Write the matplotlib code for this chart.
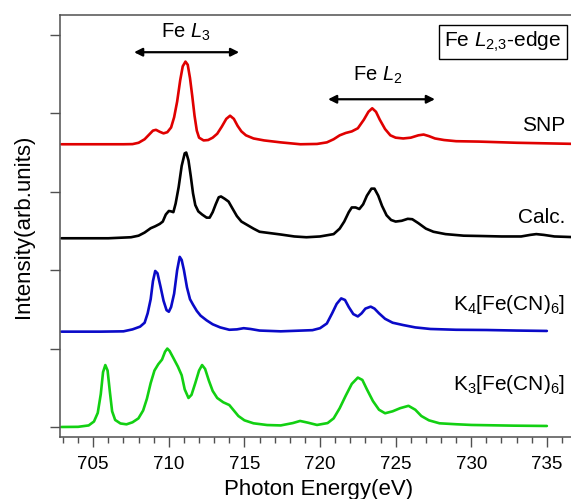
import matplotlib
matplotlib.use("Agg")
import matplotlib.pyplot as plt
from matplotlib.ticker import MultipleLocator

plt.rcParams['font.family'] = ['Liberation Sans', 'DejaVu Sans']
plt.rcParams['mathtext.fontset'] = 'custom'
plt.rcParams['mathtext.rm'] = 'Liberation Sans'
plt.rcParams['mathtext.it'] = 'Liberation Sans:italic'

# ---- data ----
snp_e = [702.9, 705.0, 707.0, 707.6, 708.0, 708.4, 708.7, 708.95, 709.15, 709.4,
         709.65, 709.9, 710.15, 710.35, 710.55, 710.75, 710.92, 711.1, 711.25, 711.4,
         711.55, 711.7, 711.85, 712.0, 712.3, 712.6, 712.9, 713.2, 713.5, 713.8,
         714.05, 714.3, 714.55, 714.8, 715.1, 715.6, 716.3, 717.4, 718.7, 719.8,
         720.45, 720.9, 721.3, 721.7, 722.1, 722.5, 722.9, 723.2, 723.45, 723.7,
         723.95, 724.3, 724.65, 725.0, 725.5, 726.0, 726.5, 726.85, 727.2, 727.6,
         728.2, 729.0, 730.5, 733.0, 737.0]
snp_i = [3.606, 3.606, 3.606, 3.608, 3.625, 3.67, 3.73, 3.78, 3.79, 3.765,
         3.745, 3.76, 3.82, 3.95, 4.15, 4.42, 4.60, 4.66, 4.62, 4.45,
         4.22, 3.97, 3.78, 3.69, 3.655, 3.66, 3.69, 3.74, 3.83, 3.93,
         3.97, 3.93, 3.84, 3.77, 3.72, 3.68, 3.655, 3.63, 3.606, 3.61,
         3.63, 3.67, 3.72, 3.75, 3.77, 3.81, 3.92, 4.02, 4.065, 4.02,
         3.92, 3.80, 3.72, 3.69, 3.68, 3.69, 3.72, 3.73, 3.71, 3.68,
         3.66, 3.645, 3.64, 3.625, 3.61]

calc_e = [702.9, 706.0, 707.5, 708.0, 708.4, 708.8, 709.1, 709.4, 709.6, 709.8,
          710.0, 710.15, 710.3, 710.45, 710.65, 710.85, 711.05, 711.15, 711.3, 711.45,
          711.6, 711.75, 711.95, 712.2, 712.5, 712.7, 712.9, 713.1, 713.3, 713.45,
          713.7, 713.95, 714.2, 714.5, 714.8, 715.2, 715.6, 716.0, 716.6, 717.4,
          718.3, 719.1, 720.0, 720.9, 721.3, 721.6, 721.9, 722.1, 722.35, 722.6,
          722.85, 723.1, 723.4, 723.6, 723.85, 724.1, 724.4, 724.7, 725.0, 725.4,
          725.8, 726.1, 726.5, 727.0, 727.5, 728.3, 729.5, 730.6, 732.0, 733.3,
          733.9, 734.3, 734.8, 735.5, 737.0]
calc_i = [2.407, 2.407, 2.42, 2.44, 2.48, 2.535, 2.56, 2.59, 2.62, 2.71,
          2.755, 2.75, 2.74, 2.85, 3.06, 3.33, 3.49, 3.50, 3.40, 3.20,
          2.98, 2.83, 2.75, 2.71, 2.67, 2.67, 2.74, 2.84, 2.93, 2.94,
          2.91, 2.875, 2.79, 2.69, 2.62, 2.575, 2.53, 2.49, 2.475, 2.455,
          2.43, 2.42, 2.43, 2.46, 2.53, 2.62, 2.74, 2.80, 2.80, 2.78,
          2.84, 2.95, 3.04, 3.04, 2.95, 2.82, 2.70, 2.64, 2.62, 2.63,
          2.655, 2.65, 2.60, 2.53, 2.49, 2.46, 2.44, 2.436, 2.43, 2.43,
          2.45, 2.46, 2.45, 2.43, 2.42]

k4_e = [702.9, 705.5, 707.0, 707.6, 708.1, 708.4, 708.6, 708.8, 708.95, 709.1,
        709.25, 709.45, 709.65, 709.85, 710.0, 710.15, 710.35, 710.55, 710.72, 710.85,
        711.0, 711.2, 711.4, 711.6, 711.85, 712.1, 712.5, 712.9, 713.4, 714.0,
        714.5, 714.95, 715.4, 716.0, 717.4, 719.5, 720.0, 720.45, 720.8, 721.1,
        721.4, 721.65, 721.9, 722.2, 722.5, 722.75, 723.0, 723.35, 723.6, 723.9,
        724.3, 724.8, 725.5, 726.3, 727.3, 729.0, 731.0, 733.0, 735.0]
k4_i = [1.216, 1.216, 1.22, 1.245, 1.28, 1.33, 1.45, 1.63, 1.86, 1.99,
        1.96, 1.79, 1.61, 1.49, 1.47, 1.53, 1.70, 2.00, 2.17, 2.13,
        2.00, 1.78, 1.63, 1.56, 1.48, 1.42, 1.36, 1.31, 1.27, 1.24,
        1.245, 1.26, 1.25, 1.23, 1.22, 1.235, 1.26, 1.32, 1.45, 1.57,
        1.64, 1.62, 1.53, 1.44, 1.41, 1.45, 1.51, 1.535, 1.51, 1.45,
        1.38, 1.33, 1.30, 1.27, 1.25, 1.24, 1.237, 1.23, 1.225]

k3_e = [702.9, 704.0, 704.7, 705.05, 705.3, 705.5, 705.65, 705.8, 705.95, 706.1,
        706.25, 706.45, 706.8, 707.2, 707.6, 707.99, 708.3, 708.55, 708.8, 709.05,
        709.3, 709.55, 709.75, 709.9, 710.05, 710.3, 710.6, 710.85, 711.05, 711.3,
        711.5, 711.75, 712.0, 712.2, 712.4, 712.65, 712.9, 713.2, 713.6, 714.0,
        714.3, 714.6, 715.0, 715.6, 716.5, 717.4, 718.2, 718.68, 719.2, 719.8,
        720.5, 720.9, 721.3, 721.7, 722.1, 722.5, 722.8, 723.1, 723.5, 723.9,
        724.3, 724.8, 725.3, 725.85, 726.3, 726.7, 727.2, 727.9, 729.0, 730.0,
        732.8, 735.0]
k3_i = [0.0, 0.002, 0.02, 0.07, 0.18, 0.42, 0.70, 0.79, 0.72, 0.45,
        0.20, 0.09, 0.045, 0.034, 0.06, 0.11, 0.21, 0.36, 0.56, 0.72,
        0.80, 0.86, 0.96, 1.0, 0.97, 0.88, 0.77, 0.66, 0.48, 0.37,
        0.41, 0.56, 0.72, 0.79, 0.74, 0.59, 0.46, 0.37, 0.315, 0.28,
        0.21, 0.14, 0.085, 0.047, 0.025, 0.02, 0.05, 0.077, 0.055, 0.026,
        0.05, 0.11, 0.24, 0.40, 0.55, 0.63, 0.60, 0.48, 0.33, 0.22,
        0.175, 0.20, 0.24, 0.27, 0.22, 0.14, 0.085, 0.047, 0.035, 0.026,
        0.017, 0.013]

series_names = ['SNP', 'Calc.', r'K$_4$[Fe(CN)$_6$]', r'K$_3$[Fe(CN)$_6$]']
series_colors = ['#e00000', '#000000', '#0a0ac8', '#12d012']
label_y = [3.85, 2.67, 1.556, 0.536]

fig = plt.figure(figsize=(5.71, 4.99), dpi=100)
ax = fig.add_axes([0.105, 0.1242, 0.907, 0.8458])

for e, i, c in zip([snp_e, calc_e, k4_e, k3_e], [snp_i, calc_i, k4_i, k3_i], series_colors):
    ax.plot(e, i, color=c, lw=1.9, solid_joinstyle='round', solid_capstyle='round')

ax.set_xlim(702.8, 737.05)
ax.set_ylim(-0.128, 5.255)

spine_c = '#505050'
for s in ['left', 'bottom', 'top']:
    ax.spines[s].set_color(spine_c)
    ax.spines[s].set_linewidth(1.1)
ax.spines['right'].set_visible(False)

ax.xaxis.set_major_locator(MultipleLocator(5))
ax.xaxis.set_minor_locator(MultipleLocator(1))
ax.yaxis.set_major_locator(MultipleLocator(1))
ax.tick_params(axis='x', which='major', direction='out', length=7, width=1.0,
               color=spine_c, labelsize=13.5, pad=7)
ax.tick_params(axis='x', which='minor', direction='out', length=4, width=1.0, color=spine_c)
ax.tick_params(axis='y', which='major', direction='out', length=7, width=1.0,
               color=spine_c, labelleft=False)

ax.set_xlabel('Photon Energy(eV)', fontsize=16, labelpad=4)
ax.set_ylabel('Intensity(arb.units)', fontsize=16, labelpad=12)

for name, y in zip(series_names, label_y):
    ax.text(736.2, y, name, fontsize=15, ha='right', va='center')

# edge arrows and labels
ax.annotate('', xy=(707.7, 4.78), xytext=(714.65, 4.78),
            arrowprops=dict(arrowstyle='<|-|>', color='black', lw=1.6,
                            mutation_scale=12, shrinkA=0, shrinkB=0))
ax.annotate('', xy=(720.53, 4.18), xytext=(727.6, 4.18),
            arrowprops=dict(arrowstyle='<|-|>', color='black', lw=1.6,
                            mutation_scale=12, shrinkA=0, shrinkB=0))
ax.text(711.15, 5.03, r'Fe $\mathit{L}_3$', fontsize=14.5, ha='center', va='center')
ax.text(723.8, 4.48, r'Fe $\mathit{L}_2$', fontsize=14.5, ha='center', va='center')

ax.text(732.1, 4.91, r'Fe $\mathit{L}_{2{,}3}$-edge', fontsize=15, ha='center', va='center',
        bbox=dict(boxstyle='square,pad=0.25', facecolor='white', edgecolor='black', lw=1.0))

fig.savefig('out.png', dpi=100)
